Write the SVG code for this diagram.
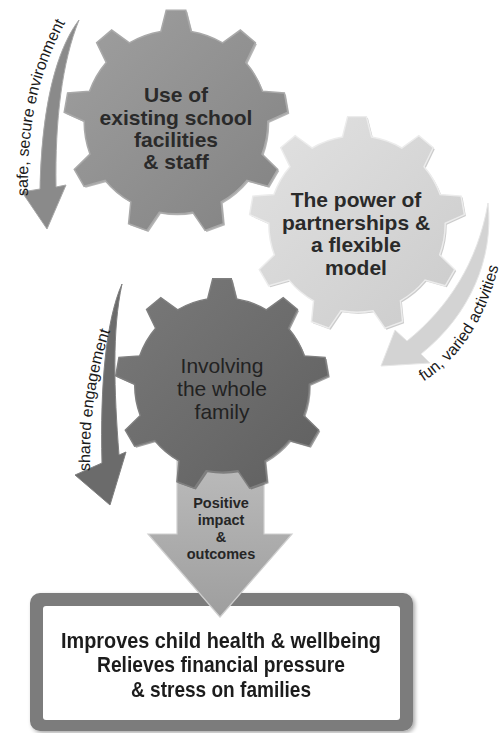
<svg xmlns="http://www.w3.org/2000/svg" xmlns:xlink="http://www.w3.org/1999/xlink" width="500" height="733" viewBox="0 0 500 733">
  <defs>
    <path id="gear" d="M -14.85,-88.77 L -9.59,-109.58 L 9.59,-109.58 L 14.85,-88.77 A 90 90 0 0 1 45.68,-77.55 L 63.09,-90.11 L 77.78,-77.78 L 68.44,-58.45 A 90 90 0 0 1 84.83,-30.04 L 106.25,-28.47 L 109.58,-9.59 L 90,-0.79 A 90 90 0 0 1 84.30,31.52 L 99.69,46.49 L 90.11,63.09 L 69.44,57.25 A 90 90 0 0 1 44.32,78.34 L 46.49,99.69 L 28.47,106.25 L 16.40,88.49 A 90 90 0 0 1 -16.40,88.49 L -28.47,106.25 L -46.49,99.69 L -44.32,78.34 A 90 90 0 0 1 -69.44,57.25 L -90.11,63.09 L -99.69,46.49 L -84.30,31.52 A 90 90 0 0 1 -90,-0.79 L -109.58,-9.59 L -106.25,-28.47 L -84.83,-30.04 A 90 90 0 0 1 -68.44,-58.45 L -77.78,-77.78 L -63.09,-90.11 L -45.68,-77.55 A 90 90 0 0 1 -14.85,-88.77 Z"/>
    <linearGradient id="g1" x1="0" y1="0" x2="1" y2="1">
      <stop offset="0" stop-color="#a0a0a0"/>
      <stop offset="1" stop-color="#828282"/>
    </linearGradient>
    <linearGradient id="g2" x1="0" y1="0" x2="1" y2="1">
      <stop offset="0" stop-color="#e2e2e2"/>
      <stop offset="1" stop-color="#cbcbcb"/>
    </linearGradient>
    <linearGradient id="g3" x1="0" y1="0" x2="1" y2="1">
      <stop offset="0" stop-color="#7a7a7a"/>
      <stop offset="1" stop-color="#5f5f5f"/>
    </linearGradient>
    <linearGradient id="ga" x1="0" y1="0" x2="0" y2="1">
      <stop offset="0" stop-color="#bdbdbd"/>
      <stop offset="1" stop-color="#9e9e9e"/>
    </linearGradient>
    <path id="tp1" d="M 28,199 C 27,140 32,80 70,14"/>
    <path id="tp2" d="M 421,383 C 458,360 491,320 505,236"/>
    <path id="tp3" d="M 90,474 C 89,420 95,360 122,302"/>
    <filter id="sh" x="-10%" y="-10%" width="130%" height="130%">
      <feGaussianBlur in="SourceAlpha" stdDeviation="2"/>
      <feOffset dx="2" dy="2" result="b"/>
      <feComponentTransfer><feFuncA type="linear" slope="0.35"/></feComponentTransfer>
      <feMerge><feMergeNode/><feMergeNode in="SourceGraphic"/></feMerge>
    </filter>
  </defs>
  <style>
    .gt { font-family: "Liberation Sans", Arial, sans-serif; font-size: 21px; font-weight: bold; fill: #2a2a2a; text-anchor: middle; }
    .g3t { font-family: "Liberation Sans", Arial, sans-serif; font-size: 21px; fill: #222222; text-anchor: middle; }
    .at { font-family: "Liberation Sans", Arial, sans-serif; font-size: 14.5px; font-weight: bold; fill: #262626; text-anchor: middle; }
    .bt { font-family: "Liberation Sans", Arial, sans-serif; font-size: 22px; font-weight: bold; fill: #1e1e1e; text-anchor: middle; }
    .ct { font-family: "Liberation Sans", Arial, sans-serif; font-size: 16px; fill: #1a1a1a; }
  </style>

  <g id="outcome-box" filter="url(#sh)">
    <rect x="30" y="593" width="383" height="138" rx="10" fill="#7b7b7b"/>
    <rect x="43" y="606" width="357" height="114" rx="3" fill="#ffffff"/>
    <text class="bt" x="221" y="648" textLength="320" lengthAdjust="spacingAndGlyphs">Improves child health &amp; wellbeing</text>
    <text class="bt" x="221" y="672" textLength="248" lengthAdjust="spacingAndGlyphs">Relieves financial pressure</text>
    <text class="bt" x="221" y="697" textLength="180" lengthAdjust="spacingAndGlyphs">&amp; stress on families</text>
  </g>

  <g id="connectors">
    <g id="impact-arrow">
      <path d="M 177,450 L 264,450 L 264,534 L 292,534 L 220,617 L 148,534 L 177,534 Z" fill="url(#ga)" stroke="#cfcfcf" stroke-width="1.2"/>
    </g>
    <g id="arrow-safe">
      <path d="M 79,20 C 60,45 42,95 40,189 L 22,192 L 47,229 L 66,185 L 56,187 C 55,120 62,62 79,20 Z" fill="#8a8a8a" stroke="#a8a8a8" stroke-width="1"/>
      <text class="ct"><textPath xlink:href="#tp1" href="#tp1" startOffset="3">safe, secure environment</textPath></text>
    </g>
    <g id="arrow-fun">
      <path d="M 488,203 C 494,258 470,315 421,354 L 430,363 L 381,366 L 395,330 L 407,341 C 448,308 478,262 488,203 Z" fill="#d3d3d3" stroke="#e6e6e6" stroke-width="1"/>
      <text class="ct"><textPath xlink:href="#tp2" href="#tp2" startOffset="3">fun, varied activities</textPath></text>
    </g>
    <g id="arrow-shared">
      <path d="M 122,284 C 106,320 100,385 102,463 L 75,475 L 110,505 L 126,452 L 119,455 C 114,390 112,330 122,284 Z" fill="#6b6b6b" stroke="#808080" stroke-width="1"/>
      <text class="ct"><textPath xlink:href="#tp3" href="#tp3" startOffset="3">shared engagement</textPath></text>
    </g>
  </g>

  <g id="gear-school">
    <use href="#gear" xlink:href="#gear" transform="translate(177.5,123.5) scale(1.02)" fill="#6e6e6e" opacity="0.5"/>
    <use href="#gear" xlink:href="#gear" transform="translate(176,122) scale(1.02)" fill="url(#g1)" stroke="#a9a9a9" stroke-width="1.5"/>
    <text class="gt" x="176" y="102">Use of</text>
    <text class="gt" x="176" y="125">existing school</text>
    <text class="gt" x="176" y="147">facilities</text>
    <text class="gt" x="176" y="169">&amp; staff</text>
  </g>

  <g id="gear-partnerships">
    <use href="#gear" xlink:href="#gear" transform="translate(358.5,225.5) scale(0.98)" fill="#9a9a9a" opacity="0.5"/>
    <use href="#gear" xlink:href="#gear" transform="translate(357,224) scale(0.98)" fill="url(#g2)" stroke="#ececec" stroke-width="1.5"/>
    <text class="gt" x="356" y="207">The power of</text>
    <text class="gt" x="356" y="230">partnerships &amp;</text>
    <text class="gt" x="356" y="252">a flexible</text>
    <text class="gt" x="356" y="275">model</text>
  </g>

  <g id="gear-family">
    <use href="#gear" xlink:href="#gear" transform="translate(223.5,386.5) scale(0.97)" fill="#444444" opacity="0.5"/>
    <use href="#gear" xlink:href="#gear" transform="translate(222,385) scale(0.97)" fill="url(#g3)" stroke="#7f7f7f" stroke-width="1.5"/>
    <text class="g3t" x="222" y="373">Involving</text>
    <text class="g3t" x="222" y="396">the whole</text>
    <text class="g3t" x="222" y="419">family</text>
  </g>

  <g id="impact-label">
    <text class="at" x="221" y="508">Positive</text>
    <text class="at" x="221" y="525">impact</text>
    <text class="at" x="221" y="542">&amp;</text>
    <text class="at" x="221" y="559">outcomes</text>
  </g>
</svg>
